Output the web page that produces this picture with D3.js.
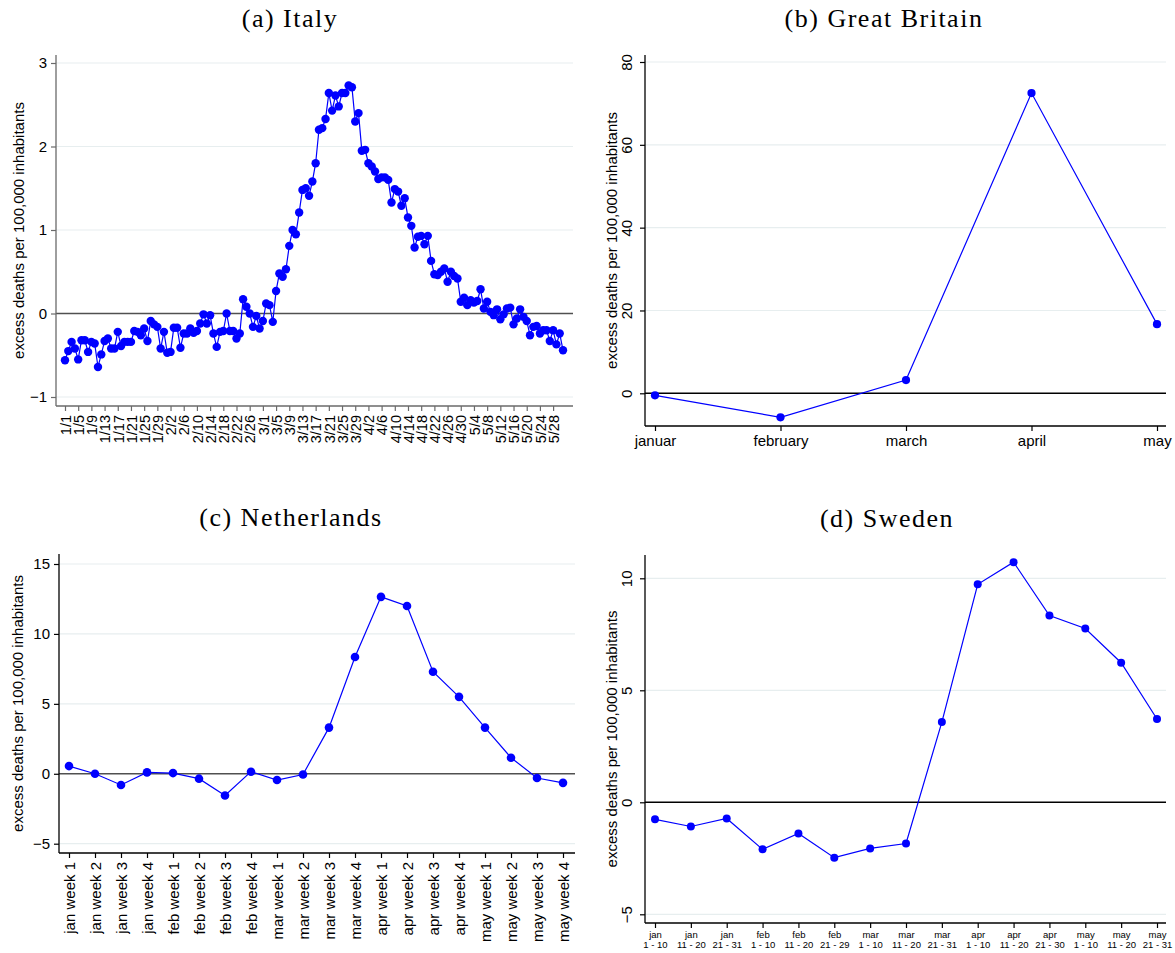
<!DOCTYPE html>
<html>
<head>
<meta charset="utf-8">
<script src="https://cdn.jsdelivr.net/npm/d3@7"></script>
<style>
  body { margin: 0; background: #fff; }
</style>
</head>
<body>
<svg id="chart"></svg>
<script>
// ---- data ----
const italyStart = new Date(2020, 0, 1);
const italyValues = [
  -0.56, -0.45, -0.34, -0.42, -0.55, -0.32, -0.32, -0.46, -0.34, -0.36,
  -0.64, -0.49, -0.33, -0.30, -0.42, -0.42, -0.22, -0.39, -0.34, -0.34,
  -0.34, -0.21, -0.22, -0.26, -0.18, -0.33, -0.09, -0.13, -0.16, -0.42,
  -0.22, -0.47, -0.46, -0.17, -0.17, -0.41, -0.24, -0.24, -0.18, -0.23,
  -0.21, -0.12, -0.01, -0.12, -0.02, -0.24, -0.40, -0.22, -0.21, 0.00,
  -0.21, -0.21, -0.30, -0.24, 0.17, 0.08, 0.00, -0.16, -0.03, -0.18,
  -0.09, 0.12, 0.10, -0.10, 0.27, 0.48, 0.44, 0.53, 0.81, 1.00,
  0.95, 1.21, 1.48, 1.50, 1.41, 1.58, 1.80, 2.20, 2.22, 2.33,
  2.64, 2.43, 2.61, 2.48, 2.64, 2.64, 2.73, 2.71, 2.30, 2.40,
  1.95, 1.96, 1.80, 1.76, 1.70, 1.61, 1.63, 1.63, 1.60, 1.33,
  1.49, 1.46, 1.29, 1.38, 1.15, 1.05, 0.79, 0.92, 0.93, 0.83,
  0.93, 0.63, 0.47, 0.46, 0.50, 0.54, 0.38, 0.50, 0.45, 0.42,
  0.14, 0.19, 0.10, 0.16, 0.13, 0.15, 0.29, 0.06, 0.14, 0.02,
  -0.02, 0.05, -0.07, -0.01, 0.06, 0.07, -0.13, -0.06, 0.05, -0.04,
  -0.09, -0.26, -0.16, -0.15, -0.24, -0.20, -0.20, -0.33, -0.20, -0.37,
  -0.24, -0.44
];
const italyTicks = [
  "1/1", "1/5", "1/9", "1/13", "1/17", "1/21", "1/25", "1/29",
  "2/2", "2/6", "2/10", "2/14", "2/18", "2/22", "2/26",
  "3/1", "3/5", "3/9", "3/13", "3/17", "3/21", "3/25", "3/29",
  "4/2", "4/6", "4/10", "4/14", "4/18", "4/22", "4/26", "4/30",
  "5/4", "5/8", "5/12", "5/16", "5/20", "5/24", "5/28"
];
const italyYTicks = [-1, 0, 1, 2, 3];

const gbMonths = ["januar", "february", "march", "april", "may"];
const gbValues = [-0.5, -5.8, 3.2, 72.5, 16.7];
const gbYTicks = [0, 20, 40, 60, 80];

const nlWeeks = [
  "jan week 1", "jan week 2", "jan week 3", "jan week 4",
  "feb week 1", "feb week 2", "feb week 3", "feb week 4",
  "mar week 1", "mar week 2", "mar week 3", "mar week 4",
  "apr week 1", "apr week 2", "apr week 3", "apr week 4",
  "may week 1", "may week 2", "may week 3", "may week 4"
];
const nlValues = [0.55, 0.0, -0.8, 0.1, 0.05, -0.35, -1.55, 0.15, -0.45, -0.05,
                  3.3, 8.35, 12.65, 12.0, 7.3, 5.5, 3.3, 1.15, -0.3, -0.65];
const nlYTicks = [-5, 0, 5, 10, 15];

const seMonths = ["jan", "jan", "jan", "feb", "feb", "feb", "mar", "mar", "mar",
                  "apr", "apr", "apr", "may", "may", "may"];
const seRanges = ["1 - 10", "11 - 20", "21 - 31", "1 - 10", "11 - 20", "21 - 29",
                  "1 - 10", "11 - 20", "21 - 31", "1 - 10", "11 - 20", "21 - 30",
                  "1 - 10", "11 - 20", "21 - 31"];
const seValues = [-0.76, -1.08, -0.72, -2.1, -1.39, -2.47, -2.06, -1.84, 3.58,
                  9.73, 10.72, 8.34, 7.76, 6.23, 3.72];
const seYTicks = [-5, 0, 5, 10];

// ---- setup ----
const width = 1175;
const height = 953;
const blue = "#0000ff";
const gridColor = "#e7eeef";
const font = "'Liberation Sans', Arial, sans-serif";
const yTitle = "excess deaths per 100,000 inhabitants";

const svg = d3.select("#chart")
  .attr("width", width)
  .attr("height", height)
  .attr("viewBox", [0, 0, width, height])
  .style("font-family", font);

// draws the frame, grid, zero line, series and axes of one panel
function drawPanel(p) {
  const g = svg.append("g");
  const { x, y, box } = p;

  // title
  svg.append("text")
    .attr("x", p.titleX)
    .attr("y", box.top - 28)
    .attr("text-anchor", "middle")
    .attr("font-family", "'Liberation Serif', 'Times New Roman', serif")
    .attr("font-size", 26)
    .attr("letter-spacing", 1.5)
    .text(p.title);

  // grid lines
  g.append("g")
    .selectAll("line")
    .data(p.yTicks.filter((d) => d !== 0))
    .join("line")
    .attr("x1", box.left)
    .attr("x2", box.right)
    .attr("y1", (d) => y(d))
    .attr("y2", (d) => y(d))
    .attr("stroke", gridColor)
    .attr("stroke-width", 1.2);

  // zero reference line
  g.append("line")
    .attr("x1", box.left)
    .attr("x2", box.right)
    .attr("y1", y(0))
    .attr("y2", y(0))
    .attr("stroke", p.zeroColor)
    .attr("stroke-width", 1.4);

  // series
  const line = d3.line()
    .x((d) => x(d.key))
    .y((d) => y(d.value));

  g.append("path")
    .datum(p.data)
    .attr("fill", "none")
    .attr("stroke", blue)
    .attr("stroke-width", 1.2)
    .attr("d", line);

  g.append("g")
    .attr("fill", blue)
    .selectAll("circle")
    .data(p.data)
    .join("circle")
    .attr("cx", (d) => x(d.key))
    .attr("cy", (d) => y(d.value))
    .attr("r", p.r);

  // y axis
  const yAxis = g.append("g")
    .attr("transform", `translate(${box.left},0)`)
    .call(d3.axisLeft(y).tickValues(p.yTicks).tickSize(5).tickFormat(d3.format("")))
    .call((a) => a.select(".domain").remove())
    .call((a) => a.selectAll(".tick line").attr("stroke", p.axisColor).attr("stroke-width", 1.2))
    .call((a) => a.selectAll(".tick text")
      .attr("font-size", 15)
      .attr("font-family", font)
      .attr("fill", "#000"));

  if (p.rotateY) {
    yAxis.selectAll(".tick text")
      .attr("x", null)
      .attr("dy", null)
      .attr("text-anchor", "middle")
      .attr("transform", "translate(-13,0) rotate(-90)");
  } else {
    yAxis.selectAll(".tick text").attr("x", -9);
  }

  g.append("line")
    .attr("x1", box.left)
    .attr("x2", box.left)
    .attr("y1", box.top)
    .attr("y2", box.bottom)
    .attr("stroke", p.axisColor)
    .attr("stroke-width", 1.3);

  g.append("text")
    .attr("transform", `translate(${box.left - p.yTitleOffset},${(box.top + box.bottom) / 2}) rotate(-90)`)
    .attr("text-anchor", "middle")
    .attr("font-size", 15)
    .text(yTitle);

  // x axis
  const xAxis = g.append("g")
    .attr("transform", `translate(0,${box.bottom})`)
    .call(p.xAxis)
    .call((a) => a.select(".domain").remove())
    .call((a) => a.selectAll(".tick line").attr("stroke", p.axisColor).attr("stroke-width", 1.2))
    .call((a) => a.selectAll(".tick text").attr("font-family", font).attr("fill", "#000"));

  g.append("line")
    .attr("x1", box.left)
    .attr("x2", box.right)
    .attr("y1", box.bottom)
    .attr("y2", box.bottom)
    .attr("stroke", p.axisColor)
    .attr("stroke-width", 1.3);

  return xAxis;
}

// (a) Italy
{
  const data = italyValues.map((v, i) => ({ key: d3.timeDay.offset(italyStart, i), value: v }));
  const tickDates = italyTicks.map((s) => {
    const [m, d] = s.split("/").map(Number);
    return new Date(2020, m - 1, d);
  });
  const box = { left: 56, right: 573, top: 55, bottom: 406 };
  const x = d3.scaleTime().domain(d3.extent(data, (d) => d.key)).range([65, 563]);
  const y = d3.scaleLinear().domain([-1, 3]).range([397, 63]);
  const xa = drawPanel({
    title: "(a) Italy", titleX: 290, box, x, y, data, yTicks: italyYTicks, r: 4.2,
    zeroColor: "#505050", axisColor: "#6a6a6a", yTitleOffset: 32, rotateY: false,
    xAxis: d3.axisBottom(x).tickValues(tickDates).tickSize(5).tickFormat((d, i) => italyTicks[i])
  });
  xa.selectAll(".tick text")
    .attr("font-size", 14.5)
    .attr("y", 0)
    .attr("x", -9)
    .attr("dy", "0.36em")
    .attr("text-anchor", "end")
    .attr("transform", "rotate(-90)");
}

// (b) Great Britain
{
  const data = gbMonths.map((m, i) => ({ key: m, value: gbValues[i] }));
  const box = { left: 645, right: 1166, top: 55, bottom: 426 };
  const x = d3.scalePoint().domain(gbMonths).range([655, 1157]);
  const y = d3.scaleLinear().domain([0, 80]).range([393.3, 62]);
  const xa = drawPanel({
    title: "(b) Great Britain", titleX: 884, box, x, y, data, yTicks: gbYTicks, r: 4.1,
    zeroColor: "#000", axisColor: "#000", yTitleOffset: 28, rotateY: true,
    xAxis: d3.axisBottom(x).tickSize(5)
  });
  xa.selectAll(".tick text")
    .attr("font-size", 15)
    .attr("y", 9);
}

// (c) Netherlands
{
  const data = nlWeeks.map((w, i) => ({ key: w, value: nlValues[i] }));
  const box = { left: 59, right: 575, top: 554, bottom: 853 };
  const x = d3.scalePoint().domain(nlWeeks).range([69, 563]);
  const y = d3.scaleLinear().domain([-5, 15]).range([843.7, 564]);
  const xa = drawPanel({
    title: "(c) Netherlands", titleX: 291, box, x, y, data, yTicks: nlYTicks, r: 4.3,
    zeroColor: "#505050", axisColor: "#000", yTitleOffset: 36, rotateY: false,
    xAxis: d3.axisBottom(x).tickSize(5)
  });
  xa.selectAll(".tick text")
    .attr("font-size", 15)
    .attr("y", 0)
    .attr("x", -9)
    .attr("dy", "0.36em")
    .attr("text-anchor", "end")
    .attr("transform", "rotate(-90)");
}

// (d) Sweden
{
  const keys = seMonths.map((m, i) => `${m} ${seRanges[i]}`);
  const data = keys.map((k, i) => ({ key: k, value: seValues[i] }));
  const box = { left: 645, right: 1166, top: 555, bottom: 923 };
  const x = d3.scalePoint().domain(keys).range([655, 1157]);
  const y = d3.scaleLinear().domain([-5, 10]).range([914.3, 578.3]);
  const xa = drawPanel({
    title: "(d) Sweden", titleX: 887, box, x, y, data, yTicks: seYTicks, r: 4,
    zeroColor: "#000", axisColor: "#000", yTitleOffset: 28, rotateY: true,
    xAxis: d3.axisBottom(x).tickSize(5).tickFormat(() => "")
  });
  xa.selectAll(".tick text").remove();
  xa.selectAll(".tick")
    .append("text")
    .attr("text-anchor", "middle")
    .attr("font-size", 9.5)
    .attr("fill", "#000")
    .selectAll("tspan")
    .data((d) => [seMonths[keys.indexOf(d)], seRanges[keys.indexOf(d)]])
    .join("tspan")
    .attr("x", 0)
    .attr("y", (d, i) => (i === 0 ? 15 : 25))
    .text((d) => d);
}
</script>
</body>
</html>
